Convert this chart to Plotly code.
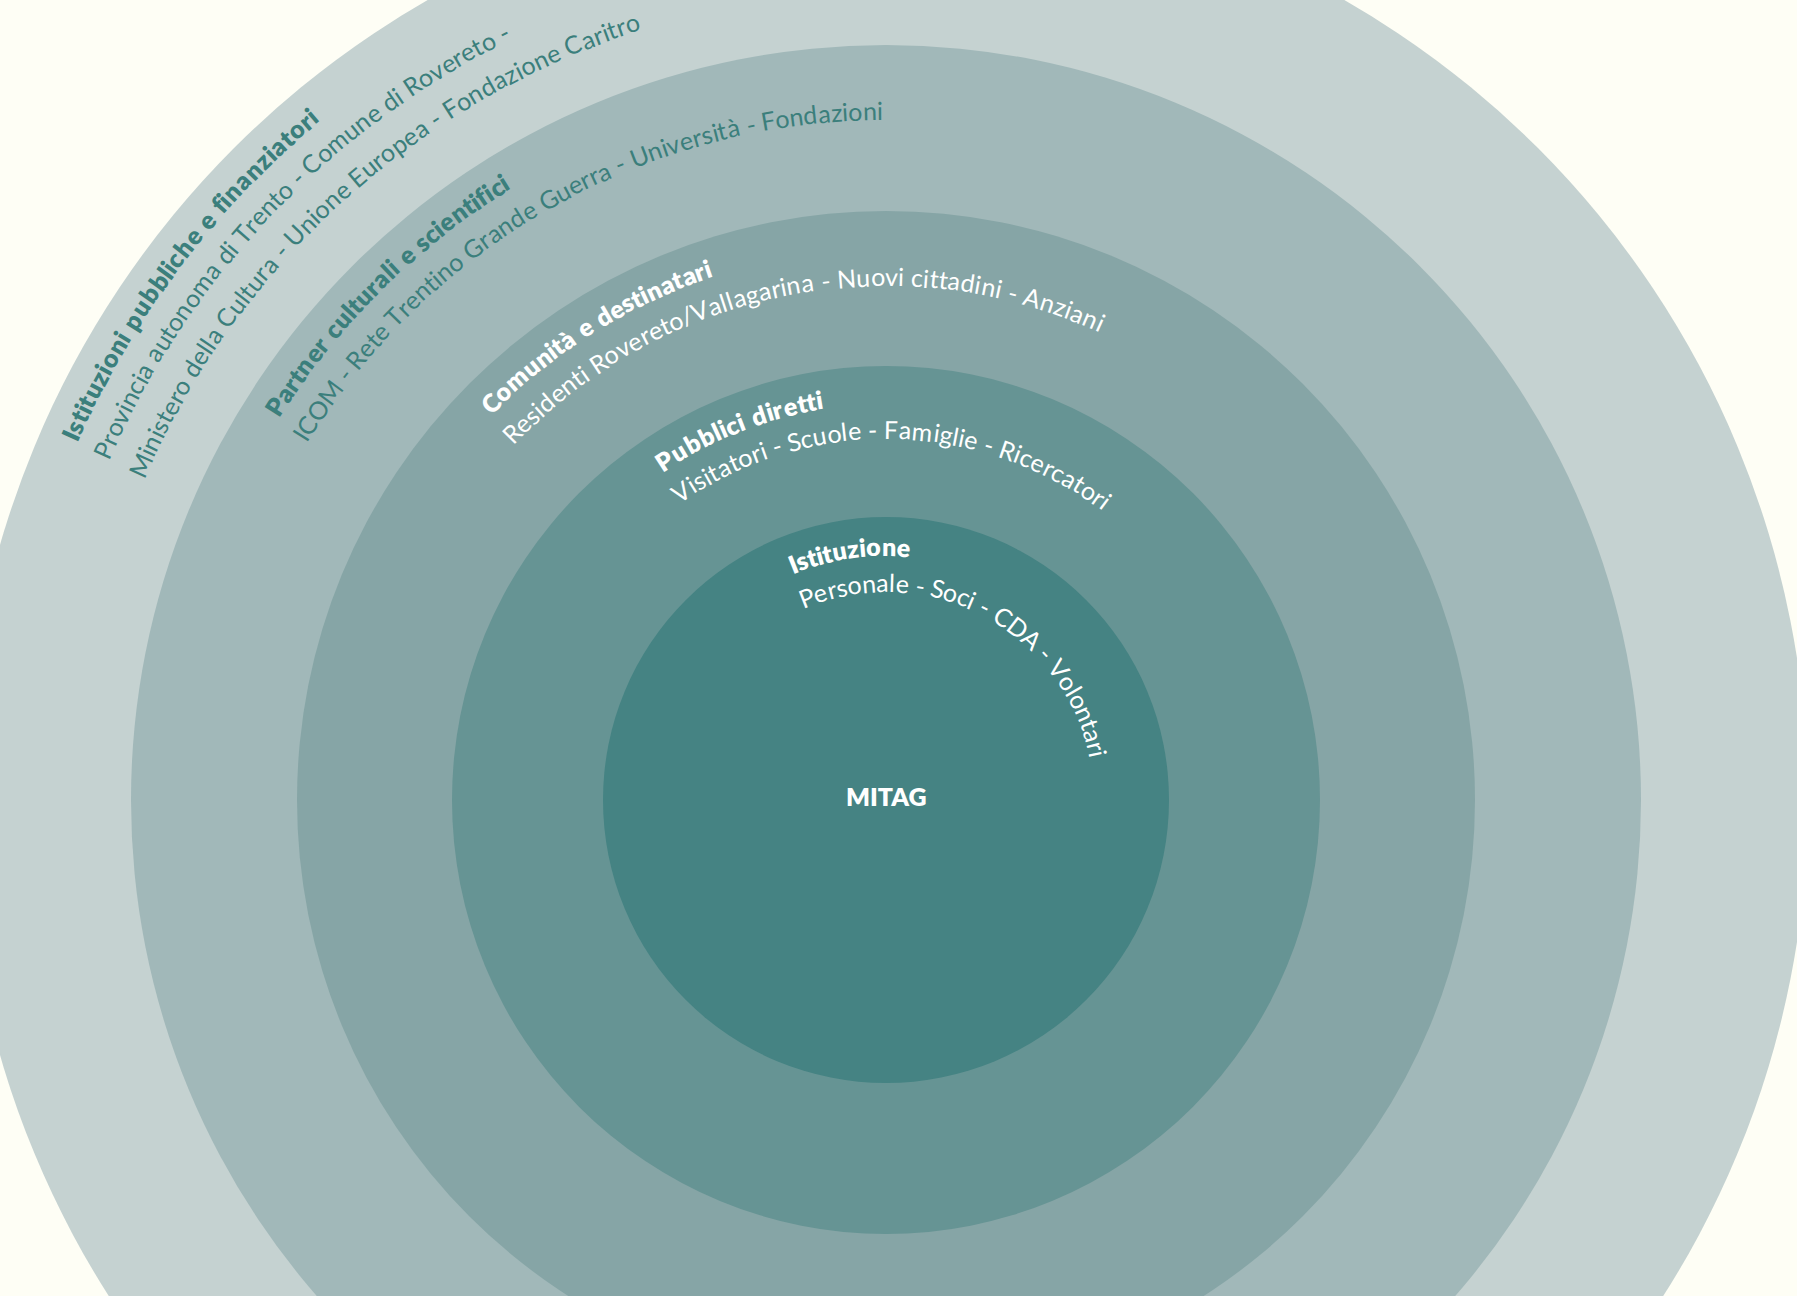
import math
import plotly.graph_objects as go

# ---------------- data ----------------
center_label = "MITAG"
ring_titles = [
    "Istituzione",
    "Pubblici diretti",
    "Comunità e destinatari",
    "Partner culturali e scientifici",
    "Istituzioni pubbliche e finanziatori",
]
ring_members = [
    ["Personale - Soci - CDA - Volontari"],
    ["Visitatori - Scuole - Famiglie - Ricercatori"],
    ["Residenti Rovereto/Vallagarina - Nuovi cittadini - Anziani"],
    ["ICOM - Rete Trentino Grande Guerra - Università - Fondazioni"],
    ["Provincia autonoma di Trento - Comune di Rovereto -",
     "Ministero della Cultura - Unione Europea - Fondazione Caritro"],
]
ring_radius = [283, 434, 589, 755, 922]

# ---------------- layout / style ----------------
W, H = 1797, 1296
CX, CY = 886, 800
BG = "#fefef5"
ring_colors = ["#458383", "#669494", "#86a5a6", "#a1b8b9", "#c5d2d1"]
text_colors = ["#ffffff", "#ffffff", "#ffffff", "#3b7f7c", "#3b7f7c"]
# (radius, start angle, end angle) of the text arcs, degrees ccw from +x
title_arcs = [(254, 111.6, 86.1), (406, 123.1, 99.4), (561, 134.9, 108.6),
              (727, 147.2, 121.7), (894, 155.9, 130.0)]
member_arcs = [[(218, 111.4, 12.3)], [(371, 123.6, 53.6)], [(524, 135.6, 65.8)],
               [(690, 148.1, 90.5)], [(858, 155.9, 116.5), (818, 155.8, 108.1)]]
FONT = "Lato"
SIZE = 25
TSIZE = 25

CW = {
    'a': .51, 'b': .56, 'c': .46, 'd': .56, 'e': .52, 'f': .33, 'g': .50, 'h': .56,
    'i': .24, 'j': .24, 'k': .50, 'l': .24, 'm': .84, 'n': .56, 'o': .56, 'p': .56,
    'q': .56, 'r': .37, 's': .43, 't': .35, 'u': .56, 'v': .51, 'w': .77, 'x': .50,
    'y': .51, 'z': .46, ' ': .26, '-': .36, '/': .38, 'à': .51,
    'A': .68, 'C': .67, 'D': .75, 'E': .56, 'F': .54, 'G': .73, 'I': .27, 'M': .90,
    'N': .75, 'O': .80, 'P': .58, 'R': .60, 'S': .50, 'T': .58, 'U': .72, 'V': .68,
}


def char_w(c):
    return CW.get(c, 0.55)


annotations = []


def place(text, r, a0, a1, color, bold):
    ws = [char_w(c) for c in text]
    total = sum(ws) - ws[0] / 2 - ws[-1] / 2
    k = (a0 - a1) / total
    acc = 0.0
    for i, c in enumerate(text):
        if i > 0:
            acc += ws[i - 1] / 2 + ws[i] / 2
        if c == ' ':
            continue
        th = a0 - k * acc
        t = math.radians(th)
        annotations.append(dict(
            x=CX + r * math.cos(t), y=CY - r * math.sin(t),
            xref="x", yref="y", text=c, showarrow=False,
            textangle=90 - th, xanchor="center", yanchor="middle",
            font=dict(family=FONT, size=TSIZE if bold else SIZE, color=color,
                      weight=800 if bold else 400),
        ))


shapes = []
for r, col in reversed(list(zip(ring_radius, ring_colors))):
    shapes.append(dict(type="circle", xref="x", yref="y",
                       x0=CX - r, x1=CX + r, y0=CY - r, y1=CY + r,
                       fillcolor=col, line=dict(width=0), layer="below"))

for i, title in enumerate(ring_titles):
    r, a0, a1 = title_arcs[i]
    place(title, r, a0, a1, text_colors[i], True)
    for line, (r, a0, a1) in zip(ring_members[i], member_arcs[i]):
        place(line, r, a0, a1, text_colors[i], False)

annotations.append(dict(x=CX, y=CY - 4, xref="x", yref="y", text=center_label,
                        showarrow=False, xanchor="center", yanchor="middle",
                        font=dict(family=FONT, size=25, color="#ffffff", weight=800)))

fig = go.Figure()
fig.add_trace(go.Scatter(x=[CX], y=[CY], mode="markers",
                         marker=dict(size=1, opacity=0), hoverinfo="skip",
                         showlegend=False))
fig.update_layout(
    width=W, height=H, margin=dict(l=0, r=0, t=0, b=0),
    paper_bgcolor=BG, plot_bgcolor=BG,
    xaxis=dict(range=[0, W], visible=False, fixedrange=True),
    yaxis=dict(range=[H, 0], visible=False, fixedrange=True),
    shapes=shapes, annotations=annotations, showlegend=False,
)
fig.write_html("out.html", config={"displayModeBar": False},
               post_script="document.body.style.margin='0';document.body.style.overflow='hidden';")
